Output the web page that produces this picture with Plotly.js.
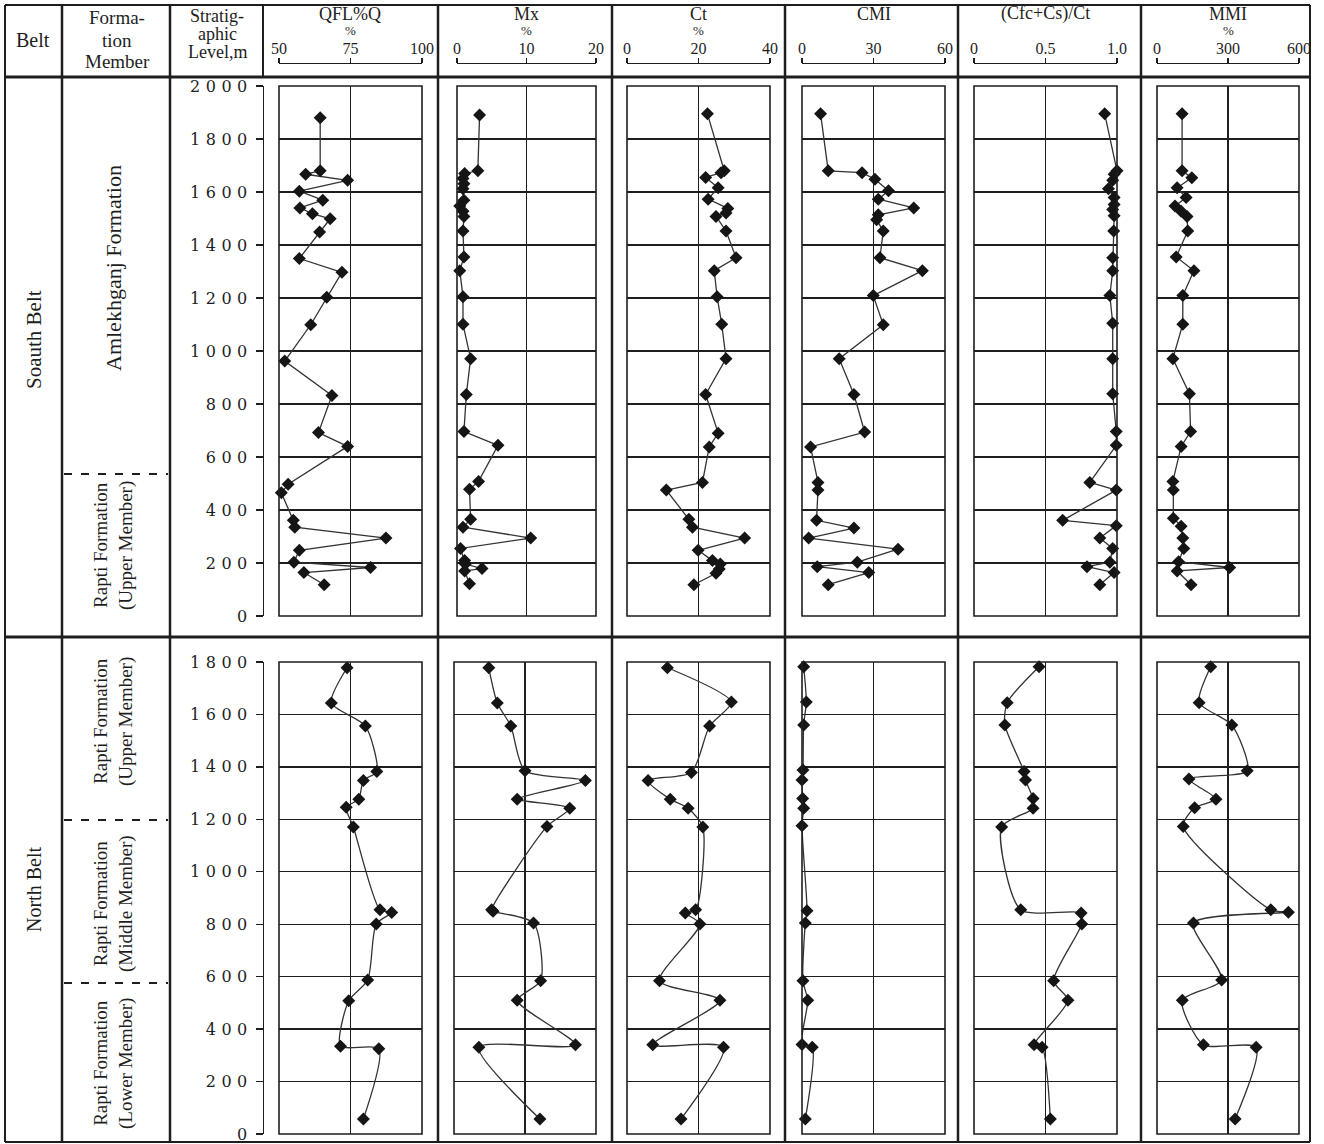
<!DOCTYPE html>
<html>
<head>
<meta charset="utf-8">
<script src="https://cdn.plot.ly/plotly-3.0.1.min.js"></script>
<style>
  html, body { margin: 0; padding: 0; background: #ffffff; }
  #chart { width: 1324px; height: 1144px; }
  .ytick text, .y7tick text { letter-spacing: 5.5px; }
</style>
</head>
<body>
<div id="chart"></div>
<script>
// ---------------- DATA ----------------
// South Belt (stratigraphic level, m) and values
const southQflDepth = [1880,1680,1667,1644,1603,1569,1540,1518,1499,1449,1349,1297,1203,1099,962,832,692,640,497,465,361,335,294,248,203,183,164,118];
const southQfl      = [64.4,64.4,59.3,74,57.1,65.3,57.3,61.7,67.9,64.2,57.1,72,66.7,61.1,52,68.5,63.8,74,53.2,50.8,55,55.5,87.4,57.1,55.2,82,58.7,65.8];

const southMxDepth = [1891,1680,1670,1651,1631,1612,1569,1547,1527,1508,1453,1355,1303,1205,1101,971,836,696,644,508,478,365,335,294,255,209,196,179,170,122];
const southMx      = [3.25,3.0,1.1,0.86,1.0,0.86,1.0,0.4,0.86,1.0,0.86,1.0,0.4,0.86,0.86,1.96,1.34,1.0,5.9,3.1,1.8,1.96,0.86,10.6,0.5,1.1,1.2,3.6,1.1,1.8];

const southCtDepth = [1895,1680,1673,1655,1616,1573,1538,1521,1508,1453,1352,1303,1205,1101,971,836,690,638,504,475,365,335,294,248,209,196,177,161,118];
const southCt      = [22.5,27.2,26.3,22,25.5,22.7,28.2,27.7,24.9,27.7,30.5,24.4,25.2,26.5,27.7,22,25.5,23,21.1,11,17.3,18.3,32.9,19.9,23.9,26.1,25.8,24.9,18.7];

const southCmiDepth = [1895,1680,1673,1648,1605,1573,1540,1514,1495,1453,1352,1303,1209,1099,971,836,694,638,504,475,361,332,294,252,203,186,164,118];
const southCmi      = [7.8,11,25.2,30.6,36.3,32,46.9,32,31.3,34.1,32.7,50.5,29.9,34.1,15.6,21.8,26.3,3.6,6.7,6.7,6.1,21.8,2.8,40.3,23.2,6.4,28,11];

const southCfcDepth = [1895,1680,1667,1644,1612,1579,1553,1534,1510,1453,1352,1303,1209,1105,971,839,696,644,504,475,361,341,294,255,203,186,164,118];
const southCfc      = [0.914,1.0,0.98,0.97,0.94,0.98,0.98,0.97,0.98,0.977,0.97,0.97,0.95,0.97,0.97,0.97,0.995,0.995,0.81,0.995,0.62,0.995,0.88,0.97,0.95,0.79,0.98,0.88];

const southMmiDepth = [1895,1680,1654,1616,1579,1547,1527,1508,1453,1355,1303,1209,1101,971,839,696,640,508,475,369,339,294,255,205,183,170,118];
const southMmi      = [106,106,147,85,123,76,102,127,130,81,156,109,109,67,137,142,102,67,69,69,102,109,113,91,307,85,144];

// North Belt
const northQflDepth = [1778,1644,1556,1382,1348,1277,1246,1171,855,845,801,587,508,335,325,57];
const northQfl      = [73.8,68.3,80.2,84.2,79.5,77.9,73.5,76,85.3,89.4,84,81,74.4,71.5,84.9,79.5];

const northMxDepth = [1778,1644,1556,1385,1348,1277,1242,1173,855,849,805,584,510,340,331,57];
const northMx      = [4.9,6.1,8.0,10,18.5,8.9,16.3,13.1,5.3,5.5,11.2,12.2,8.9,17.1,3.5,12.1];

const northCtDepth = [1778,1647,1556,1379,1348,1277,1242,1171,855,843,801,584,510,340,331,57];
const northCt      = [11.3,29.2,23.1,18,5.9,12.1,17.1,21.2,19.2,16.3,20.4,9.1,26,7.2,27,15.1];

const northCmiDepth = [1782,1647,1560,1388,1350,1279,1242,1176,851,805,584,510,341,331,57];
const northCmi      = [0.7,1.8,0.7,0.4,0,0.3,0.7,0,2.1,1.4,0.4,2.4,0,4.3,1.4];

const northCfcDepth = [1782,1645,1560,1382,1350,1279,1242,1171,855,843,801,584,510,340,331,57];
const northCfc      = [0.455,0.232,0.216,0.35,0.36,0.413,0.413,0.193,0.327,0.749,0.754,0.557,0.657,0.42,0.476,0.534];

const northMmiDepth = [1782,1645,1560,1385,1354,1277,1244,1173,855,846,805,587,510,340,331,57];
const northMmi      = [227,178,316,381,135,249,159,111,481,555,154,273,107,196,419,330];

// Tick labels
const southLevels = [0,200,400,600,800,1000,1200,1400,1600,1800,2000];
const northLevels = [0,200,400,600,800,1000,1200,1400,1600,1800];
const qflTicks = [50,75,100];
const mxTicks  = [0,10,20];
const ctTicks  = [0,20,40];
const cmiTicks = [0,30,60];
const cfcTicks = [0,0.5,1];
const cfcTickText = ['0','0.5','1.0'];
const mmiTicks = [0,300,600];

const panelTitles = ['QFL%Q','Mx','Ct','CMI','(Cfc+Cs)/Ct','MMI'];
const panelUnits  = ['%','%','%','','','%'];

// ---------------- LAYOUT HELPERS ----------------
const W = 1324, H = 1144;
const px = x => x / W;
const py = y => 1 - y / H;
const INK = '#1e1e1e';
const SERIF = 'Liberation Serif, Times New Roman, serif';
const DIGITS = 'DejaVu Serif, serif';

const panelDefs = [
  {range:[50,100], ticks:qflTicks, text:qflTicks.map(String), sx:[279,422], nx:[279,422], sd:southQflDepth, sv:southQfl, nd:northQflDepth, nv:northQfl},
  {range:[0,20],   ticks:mxTicks,  text:mxTicks.map(String),  sx:[457,596], nx:[454,596], sd:southMxDepth,  sv:southMx,  nd:northMxDepth,  nv:northMx},
  {range:[0,40],   ticks:ctTicks,  text:ctTicks.map(String),  sx:[627,770], nx:[627,770], sd:southCtDepth,  sv:southCt,  nd:northCtDepth,  nv:northCt},
  {range:[0,60],   ticks:cmiTicks, text:cmiTicks.map(String), sx:[802,945], nx:[802,945], sd:southCmiDepth, sv:southCmi, nd:northCmiDepth, nv:northCmi},
  {range:[0,1],    ticks:cfcTicks, text:cfcTickText,          sx:[974,1117], nx:[974,1117], sd:southCfcDepth, sv:southCfc, nd:northCfcDepth, nv:northCfc},
  {range:[0,600],  ticks:mmiTicks, text:mmiTicks.map(String), sx:[1157,1299], nx:[1157,1299], sd:southMmiDepth, sv:southMmi, nd:northMmiDepth, nv:northMmi}
];

const southY = [py(616), py(86)];
const northY = [py(1134), py(662)];

const traces = [];
const layout = {
  width: W, height: H,
  margin: {l:0, r:0, t:0, b:0},
  paper_bgcolor: '#ffffff',
  plot_bgcolor: 'rgba(0,0,0,0)',
  showlegend: false,
  shapes: [],
  annotations: []
};

function traceFor(x, y, i, smooth) {
  return {
    type: 'scatter', mode: 'lines+markers',
    x: x, y: y,
    xaxis: 'x' + (i === 1 ? '' : i), yaxis: 'y' + (i === 1 ? '' : i),
    line: {color: '#333333', width: 1.3, shape: smooth ? 'spline' : 'linear', smoothing: 0.7},
    marker: {symbol: 'diamond', size: 10, color: '#151515'},
    cliponaxis: false,
    hoverinfo: 'skip'
  };
}

function stratAxis() {
  return {
    anchor: 'free', position: px(263), side: 'left',
    showticklabels: true, ticks: 'outside', ticklen: 7, tickwidth: 1.4, tickcolor: INK,
    showline: true, linecolor: INK, linewidth: 1.4,
    ticklabeloverflow: 'allow',
    tickfont: {family: DIGITS, size: 16, color: INK}
  };
}

panelDefs.forEach((p, k) => {
  const si = k + 1;      // south subplot index
  const ni = k + 7;      // north subplot index
  const sk = si === 1 ? '' : String(si);
  const nk = String(ni);

  traces.push(traceFor(p.sv, p.sd, si, false));
  traces.push(traceFor(p.nv, p.nd, ni, true));

  // South x axis : drawn up in the header as the scale bracket
  layout['xaxis' + sk] = {
    domain: [px(p.sx[0]), px(p.sx[1])], range: p.range,
    anchor: 'free', position: py(63), side: 'top',
    tickmode: 'array', tickvals: p.ticks, ticktext: p.text,
    ticks: 'outside', ticklen: 5, tickwidth: 1.4, tickcolor: INK,
    ticklabelstandoff: -2, ticklabeloverflow: 'allow',
    showline: true, linecolor: INK, linewidth: 1.4,
    showgrid: true, gridcolor: INK, gridwidth: 1.3,
    zeroline: false, fixedrange: true,
    tickfont: {family: SERIF, size: 16, color: INK}
  };
  // South y axis
  let sy = {
    domain: southY, range: [0, 2000], anchor: 'x' + sk,
    tickmode: 'array', tickvals: southLevels,
    showgrid: true, gridcolor: INK, gridwidth: 1.3,
    zeroline: false, showticklabels: false, ticks: '', showline: false, fixedrange: true
  };
  if (si === 1) sy = Object.assign(sy, stratAxis());
  layout['yaxis' + sk] = sy;

  // North axes
  layout['xaxis' + nk] = {
    domain: [px(p.nx[0]), px(p.nx[1])], range: p.range, anchor: 'y' + nk,
    tickmode: 'array', tickvals: p.ticks,
    showgrid: true, gridcolor: INK, gridwidth: 1.3,
    zeroline: false, showticklabels: false, ticks: '', showline: false, fixedrange: true
  };
  let ny = {
    domain: northY, range: [0, 1800], anchor: 'x' + nk,
    tickmode: 'array', tickvals: northLevels,
    showgrid: true, gridcolor: INK, gridwidth: 1.3,
    zeroline: false, showticklabels: false, ticks: '', showline: false, fixedrange: true
  };
  if (ni === 7) ny = Object.assign(ny, stratAxis());
  layout['yaxis' + nk] = ny;

  // Panel boxes
  [sk, nk].forEach(id => {
    layout.shapes.push({
      type: 'rect', xref: 'x' + id + ' domain', yref: 'y' + id + ' domain',
      x0: 0, x1: 1, y0: 0, y1: 1,
      line: {color: INK, width: 1.6}, fillcolor: 'rgba(0,0,0,0)', layer: 'above'
    });
  });

  // Panel headers
  const cx = px((p.sx[0] + p.sx[1]) / 2);
  layout.annotations.push({
    text: panelTitles[k], xref: 'paper', yref: 'paper', x: cx, y: py(14),
    showarrow: false, font: {family: SERIF, size: 18, color: INK}, xanchor: 'center', yanchor: 'middle'
  });
  if (panelUnits[k]) {
    layout.annotations.push({
      text: panelUnits[k], xref: 'paper', yref: 'paper', x: cx, y: py(30),
      showarrow: false, font: {family: SERIF, size: 13, color: INK}, xanchor: 'center', yanchor: 'middle'
    });
  }
});

// ---------------- TABLE LINES ----------------
function hline(y, x0, x1, w, dash) {
  layout.shapes.push({type: 'line', xref: 'paper', yref: 'paper', x0: px(x0), x1: px(x1), y0: py(y), y1: py(y),
    line: {color: INK, width: w, dash: dash || 'solid'}});
}
function vline(x, y0, y1, w) {
  layout.shapes.push({type: 'line', xref: 'paper', yref: 'paper', x0: px(x), x1: px(x), y0: py(y0), y1: py(y1),
    line: {color: INK, width: w}});
}
// outer frame
hline(5, 5, 1310, 2);
hline(1142, 5, 1310, 2);
vline(5, 5, 1142, 2);
vline(1310, 5, 1142, 2);
// header bottom and belt divider
hline(77, 5, 1310, 3);
hline(637, 5, 1310, 3);
// column dividers
[62, 170, 438, 612, 785, 958, 1141].forEach(x => vline(x, 5, 1142, 2.5));
vline(263, 5, 77, 2);
// formation boundaries (dashed)
hline(474, 64, 168, 2, '8px,9px');
hline(820, 64, 168, 2, '8px,9px');
hline(983, 64, 168, 2, '8px,9px');

// ---------------- TEXT ----------------
function note(text, x, y, size, angle) {
  layout.annotations.push({
    text: text, xref: 'paper', yref: 'paper', x: px(x), y: py(y),
    showarrow: false, textangle: angle || 0,
    font: {family: SERIF, size: size, color: INK},
    xanchor: 'center', yanchor: 'middle', align: 'center'
  });
}
note('Belt', 33, 40, 20);
note('Forma-', 117, 18, 19);
note('tion', 117, 40, 19);
note('Member', 117, 62, 19);
note('Stratig-', 217, 16, 18);
note('aphic', 217, 34, 18);
note('Level,m', 217, 52, 18);

note('Soauth Belt', 34, 340, 21, -90);
note('North Belt', 34, 890, 20, -90);
note('Amlekhganj Formation', 113, 268, 22, -90);
note('Rapti Formation<br>(Upper Member)', 113, 546, 19, -90);
note('Rapti Formation<br>(Upper Member)', 113, 722, 19, -90);
note('Rapti Formation<br>(Middle Member)', 113, 904, 19, -90);
note('Rapti Formation<br>(Lower Member)', 113, 1064, 19, -90);

Plotly.newPlot('chart', traces, layout, {displayModeBar: false, staticPlot: true});
</script>
</body>
</html>
